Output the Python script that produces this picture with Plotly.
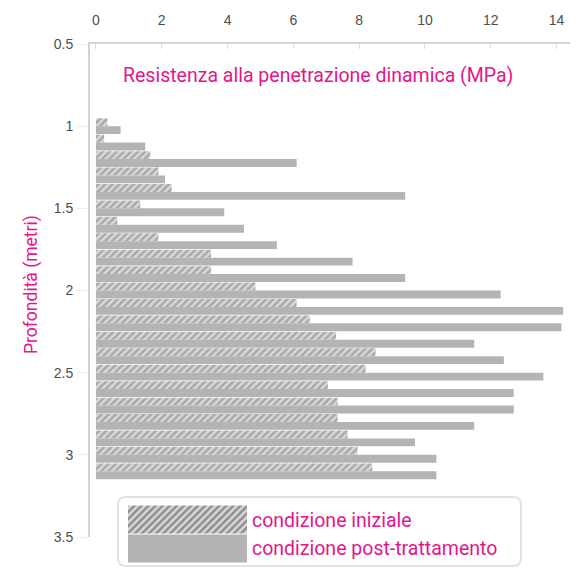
import plotly.graph_objects as go

# ---------------- data ----------------
depths = [1.0, 1.1, 1.2, 1.3, 1.4, 1.5, 1.6, 1.7, 1.8, 1.9, 2.0,
          2.1, 2.2, 2.3, 2.4, 2.5, 2.6, 2.7, 2.8, 2.9, 3.0, 3.1]
iniziale = [0.35, 0.25, 1.65, 1.9, 2.3, 1.35, 0.65, 1.9, 3.5, 3.5, 4.85,
            6.1, 6.5, 7.3, 8.5, 8.2, 7.05, 7.35, 7.35, 7.65, 7.95, 8.4]
post_trattamento = [0.75, 1.5, 6.1, 2.1, 9.4, 3.9, 4.5, 5.5, 7.8, 9.4, 12.3,
                    14.2, 14.15, 11.5, 12.4, 13.6, 12.7, 12.7, 11.5, 9.7, 10.35, 10.35]
series_names = ["condizione iniziale", "condizione post-trattamento"]
x_ticks = [0, 2, 4, 6, 8, 10, 12, 14]
y_ticks = [0.5, 1, 1.5, 2, 2.5, 3, 3.5]
x_title = "Resistenza alla penetrazione dinamica (MPa)"
y_title = "Profondità (metri)"

# ---------------- style ----------------
W, H = 585, 569
ML, MR, MT, MB = 90, 15, 44, 2
PW, PH = W - ML - MR, H - MT - MB
MAGENTA = "#e5158a"
GREY = "#b4b4b4"
HATCH = dict(shape="/", bgcolor="#d8d8d8", fgcolor="#7a7a7a", size=5, solidity=0.5)
FONT = "Roboto"
TICKFONT = dict(family="Liberation Sans", size=14, color="#4d4d4d")


def px_x(px):
    return (px - ML) / PW


def px_y(py):
    return (H - MB - py) / PH


fig = go.Figure()
fig.add_trace(go.Bar(
    y=depths, x=iniziale, orientation="h", name=series_names[0],
    marker=dict(color="#d8d8d8", pattern=HATCH, line=dict(width=0)),
    showlegend=False, xaxis="x", yaxis="y"))
fig.add_trace(go.Bar(
    y=depths, x=post_trattamento, orientation="h", name=series_names[1],
    marker=dict(color=GREY, line=dict(width=0)),
    showlegend=False, xaxis="x", yaxis="y"))

# legend swatches drawn on a small auxiliary axis
fig.add_trace(go.Bar(
    y=[0, 1], x=[1, 1], orientation="h",
    marker=dict(color=["#d8d8d8", GREY],
                pattern=dict(shape=["/", ""], bgcolor="#d8d8d8", fgcolor="#7a7a7a",
                             size=5, solidity=0.5),
                line=dict(width=0)),
    showlegend=False, xaxis="x2", yaxis="y2", hoverinfo="skip"))

fig.update_layout(
    width=W, height=H,
    margin=dict(l=ML, r=MR, t=MT, b=MB, autoexpand=False),
    paper_bgcolor="white", plot_bgcolor="white",
    barmode="group", bargap=0.04, bargroupgap=0,
    font=dict(family=FONT, size=13, color="#555555"),
    xaxis=dict(side="top", range=[-0.18, 14.41], tickvals=x_ticks,
               showgrid=False, zeroline=False, showline=True,
               linecolor="#d4d4d4", linewidth=2, automargin=False,
               ticks="inside", ticklen=5, tickcolor="#dddddd",
               ticklabelstandoff=11,
               tickfont=TICKFONT, anchor="y"),
    yaxis=dict(range=[3.5, 0.5], tickvals=y_ticks,
               ticktext=[f"{v:g}" for v in y_ticks],
               domain=[px_y(537), 1], automargin=False,
               showgrid=False, zeroline=False, showline=True,
               linecolor="#d4d4d4", linewidth=2,
               ticks="outside", ticklen=12, tickcolor="#eeeeee",
               tickfont=TICKFONT, anchor="x"),
    xaxis2=dict(domain=[px_x(128), px_x(247)], range=[0, 1], visible=False,
                anchor="y2", fixedrange=True, automargin=False),
    yaxis2=dict(domain=[px_y(563), px_y(505)], range=[1.5, -0.5], visible=False,
                anchor="x2", fixedrange=True, automargin=False),
)

# axis titles
fig.add_annotation(text=x_title, xref="paper", yref="paper",
                   x=px_x(318), y=px_y(75), xanchor="center", yanchor="middle",
                   showarrow=False,
                   font=dict(family=FONT, size=19.5, color=MAGENTA))
fig.add_annotation(text=y_title, xref="paper", yref="paper",
                   x=px_x(31), y=px_y(285), xanchor="center", yanchor="middle",
                   showarrow=False, textangle=-90,
                   font=dict(family=FONT, size=17.5, color=MAGENTA))

# legend box
x0, x1, y0, y1 = px_x(118), px_x(521), px_y(566), px_y(497)
rx, ry = 8 / PW, 8 / PH
path = (f"M {x0+rx},{y1} L {x1-rx},{y1} Q {x1},{y1} {x1},{y1-ry} "
        f"L {x1},{y0+ry} Q {x1},{y0} {x1-rx},{y0} L {x0+rx},{y0} "
        f"Q {x0},{y0} {x0},{y0+ry} L {x0},{y1-ry} Q {x0},{y1} {x0+rx},{y1} Z")
fig.add_shape(type="path", path=path, xref="paper", yref="paper",
              line=dict(color="#e2e2e2", width=2), fillcolor="rgba(0,0,0,0)")
for name, py in zip(series_names, [520, 548]):
    fig.add_annotation(text=name, xref="paper", yref="paper",
                       x=px_x(250), y=px_y(py), xanchor="left", yanchor="middle",
                       showarrow=False,
                       font=dict(family=FONT, size=19.5, color=MAGENTA))

fig.write_html("out.html", config={"displayModeBar": False},
               post_script="document.body.style.margin='0';document.body.style.overflow='hidden';")
